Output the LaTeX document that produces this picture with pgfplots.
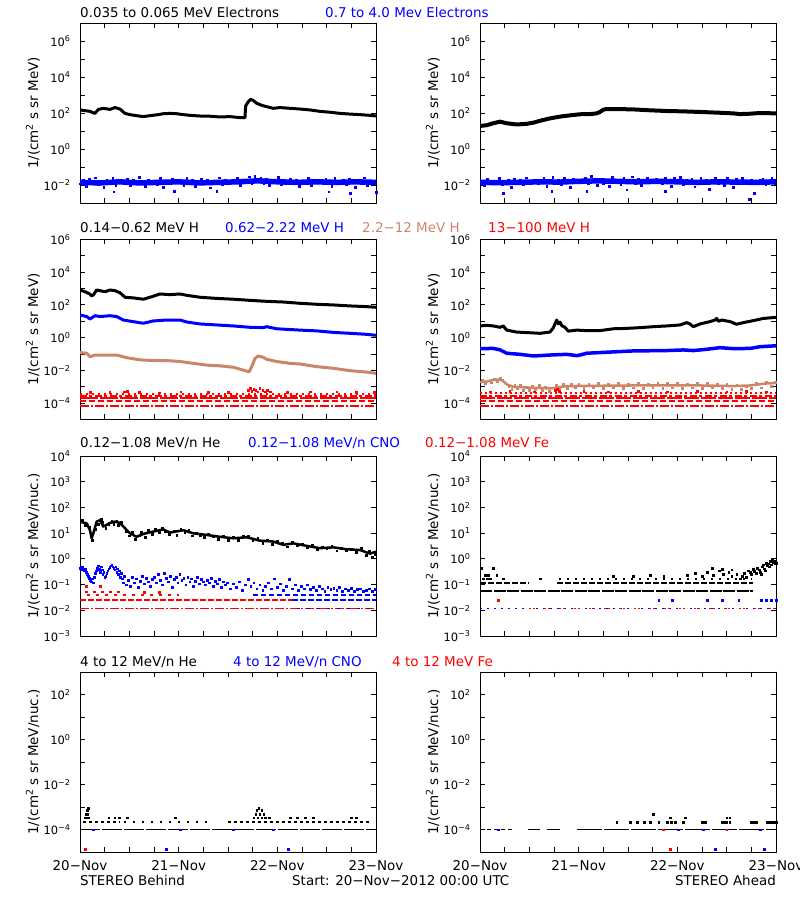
\documentclass[border=0pt]{standalone}
\usepackage{pgfplots}
\pgfplotsset{compat=1.18}
\usepackage{fontspec}
\setmainfont{DejaVu Sans}
\definecolor{tanc}{RGB}{205,133,103}
\newcommand\T{\fontsize{13.5}{14}\selectfont}
\newcommand\ee[1]{10\textsuperscript{#1}}
\pgfplotsset{
 every axis/.append style={scale only axis, width=296bp, height=180bp, xmin=0, xmax=3, ymode=log,
   axis line style={line width=0.9bp}, every tick/.style={line width=0.9bp, black},
   major tick length=5bp, minor tick length=5bp, tick align=inside,
   xtick={0,0.25,0.5,0.75,1,1.25,1.5,1.75,2,2.25,2.5,2.75,3},
   yticklabel style={font=\fontsize{11.5}{12}\selectfont, xshift=-6bp},
   xticklabel style={font=\T, yshift=-5bp},
   every axis y label/.style={at={(axis description cs:-0.159,0.5)}, rotate=90, anchor=center, font=\T},
   anchor=south west, clip=true},
 rowA/.style={ymin=1e-3, ymax=1e7, ytick={1e-2,1,1e2,1e4,1e6},
   yticklabels={\ee{−2},\ee{0},\ee{2},\ee{4},\ee{6}}, minor ytick={1e-3,1e-1,10,1e3,1e5,1e7},
   ylabel={1/(cm\textsuperscript{2} s sr MeV)}, xticklabels={}},
 rowB/.style={ymin=1e-5, ymax=1e6, ytick={1e-4,1e-2,1,1e2,1e4,1e6},
   yticklabels={\ee{−4},\ee{−2},\ee{0},\ee{2},\ee{4},\ee{6}}, minor ytick={1e-5,1e-3,1e-1,10,1e3,1e5},
   ylabel={1/(cm\textsuperscript{2} s sr MeV)}, xticklabels={}},
 rowC/.style={ymin=1e-3, ymax=1e4, ytick={1e-3,1e-2,1e-1,1,10,100,1e3,1e4},
   yticklabels={\ee{−3},\ee{−2},\ee{−1},\ee{0},\ee{1},\ee{2},\ee{3},\ee{4}}, yminorticks=false,
   ylabel={1/(cm\textsuperscript{2} s sr MeV/nuc.)}, xticklabels={}},
 rowD/.style={ymin=1e-5, ymax=1e3, ytick={1e-4,1e-2,1,1e2},
   yticklabels={\ee{−4},\ee{−2},\ee{0},\ee{2}}, minor ytick={1e-5,1e-3,1e-1,10,1e3},
   ylabel={1/(cm\textsuperscript{2} s sr MeV/nuc.)},
   xticklabels={20−Nov,,,,21−Nov,,,,22−Nov,,,,23−Nov}},
 mk/.style={only marks, mark=square*, mark size=0.9bp, mark options={line width=0.2bp}},
 ln/.style={no marks, line width=3bp, line join=round},
 lv/.style={no marks, line width=1.8bp},
}
\begin{document}
\begin{tikzpicture}
\useasboundingbox (0,0) rectangle (800bp,900bp);
% ---------- titles ----------
\node[anchor=base west, font=\T, inner sep=0] at (80bp,882bp) {0.035 to 0.065 MeV Electrons};
\node[anchor=base west, font=\T, inner sep=0, text=blue] at (325bp,882bp) {0.7 to 4.0 Mev Electrons};
\node[anchor=base west, font=\T, inner sep=0] at (80bp,667bp) {0.14−0.62 MeV H};
\node[anchor=base west, font=\T, inner sep=0, text=blue] at (225bp,667bp) {0.62−2.22 MeV H};
\node[anchor=base west, font=\T, inner sep=0, text=tanc] at (362bp,667bp) {2.2−12 MeV H};
\node[anchor=base west, font=\T, inner sep=0, text=red] at (488bp,667bp) {13−100 MeV H};
\node[anchor=base west, font=\T, inner sep=0] at (80bp,452bp) {0.12−1.08 MeV/n He};
\node[anchor=base west, font=\T, inner sep=0, text=blue] at (248bp,452bp) {0.12−1.08 MeV/n CNO};
\node[anchor=base west, font=\T, inner sep=0, text=red] at (425bp,452bp) {0.12−1.08 MeV Fe};
\node[anchor=base west, font=\T, inner sep=0] at (80bp,233bp) {4 to 12 MeV/n He};
\node[anchor=base west, font=\T, inner sep=0, text=blue] at (233bp,233bp) {4 to 12 MeV/n CNO};
\node[anchor=base west, font=\T, inner sep=0, text=red] at (392bp,233bp) {4 to 12 MeV Fe};
\node[anchor=base west, font=\T, inner sep=0] at (80bp,15bp) {STEREO Behind};
\node[anchor=base west, font=\T, inner sep=0] at (292bp,15bp) {Start: 20−Nov−2012 00:00 UTC};
\node[anchor=base east, font=\T, inner sep=0] at (776bp,15bp) {STEREO Ahead};

% ---------- Panel 1: Behind electrons ----------
\begin{axis}[rowA, at={(80bp,697bp)}]
\addplot[ln, black] coordinates {(0,148)(0.051,135)(0.101,123)(0.152,95)(0.186,158)(0.236,182)(0.304,158)(0.355,200)(0.405,166)(0.456,95)(0.507,81)(0.574,71)(0.642,63)(0.709,71)(0.777,79)(0.845,91)(0.912,95)(0.980,91)(1.047,81)(1.115,74)(1.216,68)(1.318,66)(1.419,60)(1.520,63)(1.622,55)(1.672,55)(1.679,245)(1.706,427)(1.730,575)(1.757,490)(1.791,347)(1.841,269)(1.892,224)(1.959,182)(2.027,200)(2.128,182)(2.230,166)(2.331,148)(2.432,123)(2.534,110)(2.635,95)(2.736,87)(2.838,81)(2.939,74)(3.0,68)};
\addplot[no marks, blue, line width=5.5bp] coordinates {(0,0.014)(0.2,0.013)(0.4,0.015)(0.6,0.013)(0.8,0.014)(1,0.015)(1.2,0.013)(1.4,0.014)(1.6,0.015)(1.8,0.017)(2,0.015)(2.2,0.014)(2.4,0.015)(2.6,0.014)(2.8,0.015)(3,0.014)};
\addplot[mk, blue] coordinates {(0,0.012)(0.03,0.018)(0.06,0.009)(0.09,0.021)(0.12,0.014)(0.15,0.026)(0.18,0.011)(0.21,0.016)(0.24,0.008)(0.27,0.019)(0.30,0.013)(0.33,0.023)(0.36,0.0095)(0.39,0.017)(0.34,0.0043)(0.45,0.015)(0.48,0.022)(0.51,0.010)(0.54,0.018)(0.57,0.012)(0.60,0.027)(0.63,0.014)(0.66,0.0085)(0.69,0.020)(0.72,0.013)(0.75,0.017)(0.78,0.011)(0.81,0.024)(0.84,0.0075)(0.87,0.016)(0.90,0.012)(0.93,0.021)(0.95,0.0048)(0.99,0.015)(1.02,0.019)(1.05,0.010)(1.08,0.025)(1.11,0.013)(1.14,0.018)(1.17,0.009)(1.20,0.016)(1.23,0.022)(1.26,0.012)(1.29,0.020)(1.32,0.0072)(1.35,0.017)(1.38,0.014)(1.41,0.026)(1.44,0.011)(1.47,0.019)(1.50,0.013)(1.385,0.0045)(1.56,0.016)(1.59,0.023)(1.62,0.010)(1.65,0.018)(1.68,0.015)(1.71,0.029)(1.74,0.012)(1.77,0.031)(1.80,0.017)(1.83,0.024)(1.86,0.013)(1.89,0.021)(1.92,0.0095)(1.95,0.019)(1.98,0.014)(2.01,0.027)(2.04,0.011)(2.07,0.018)(2.10,0.016)(2.13,0.022)(2.16,0.012)(2.19,0.020)(2.22,0.0088)(2.25,0.017)(2.28,0.013)(2.31,0.025)(2.34,0.010)(2.37,0.019)(2.40,0.015)(2.52,0.0043)(2.46,0.012)(2.49,0.021)(2.52,0.017)(2.55,0.009)(2.58,0.024)(2.61,0.014)(2.74,0.0035)(2.67,0.019)(2.70,0.011)(2.73,0.022)(2.76,0.016)(2.79,0.0078)(2.82,0.018)(2.85,0.013)(2.88,0.026)(2.91,0.010)(2.94,0.017)(3.0,0.0042)};
\end{axis}

% ---------- Panel 2: Ahead electrons ----------
\begin{axis}[rowA, at={(480bp,697bp)}]
\addplot[no marks, black, line width=4bp, line join=round] coordinates {(0,19)(0.068,21)(0.135,27)(0.203,33)(0.270,27)(0.372,23)(0.473,25)(0.541,29)(0.608,37)(0.709,50)(0.811,63)(0.912,74)(1.014,85)(1.115,87)(1.182,95)(1.216,114)(1.250,153)(1.284,166)(1.385,166)(1.554,158)(1.723,141)(1.892,129)(2.061,123)(2.230,114)(2.399,105)(2.568,95)(2.635,87)(2.736,91)(2.838,100)(3.0,95)};
\addplot[no marks, blue, line width=5.5bp] coordinates {(0,0.014)(0.2,0.0135)(0.4,0.014)(0.6,0.015)(0.8,0.0145)(1,0.016)(1.2,0.017)(1.4,0.016)(1.6,0.015)(1.8,0.016)(2,0.015)(2.2,0.014)(2.4,0.015)(2.6,0.0145)(2.8,0.014)(3,0.015)};
\addplot[mk, blue] coordinates {(0.015,0.014)(0.045,0.0095)(0.075,0.021)(0.105,0.012)(0.135,0.017)(0.236,0.0035)(0.195,0.024)(0.225,0.011)(0.255,0.016)(0.285,0.019)(0.315,0.008)(0.345,0.022)(0.375,0.013)(0.405,0.018)(0.435,0.0105)(0.465,0.026)(0.495,0.014)(0.726,0.0045)(0.555,0.020)(0.585,0.012)(0.615,0.017)(0.645,0.023)(0.675,0.009)(0.705,0.016)(0.735,0.028)(0.765,0.013)(0.795,0.019)(0.825,0.011)(0.855,0.025)(0.885,0.015)(0.915,0.0075)(0.945,0.021)(0.975,0.014)(1.005,0.018)(1.08,0.0048)(1.065,0.024)(1.095,0.012)(1.125,0.030)(1.155,0.016)(1.185,0.010)(1.215,0.022)(1.245,0.013)(1.275,0.019)(1.305,0.0085)(1.335,0.027)(1.365,0.015)(1.395,0.020)(1.425,0.011)(1.455,0.024)(1.485,0.0055)(1.515,0.017)(1.545,0.029)(1.575,0.013)(1.605,0.021)(1.635,0.010)(1.665,0.018)(1.695,0.026)(1.725,0.014)(1.875,0.0046)(1.785,0.022)(1.815,0.016)(1.845,0.012)(1.875,0.025)(1.905,0.019)(1.935,0.009)(1.965,0.023)(1.995,0.015)(2.025,0.028)(2.055,0.011)(2.085,0.018)(2.115,0.014)(2.145,0.021)(2.175,0.0082)(2.205,0.017)(2.235,0.024)(2.265,0.012)(2.295,0.020)(2.325,0.0058)(2.355,0.016)(2.385,0.026)(2.415,0.013)(2.445,0.019)(2.475,0.010)(2.505,0.023)(2.535,0.015)(2.565,0.0076)(2.595,0.021)(2.625,0.017)(2.655,0.025)(2.685,0.012)(2.73,0.0016)(2.745,0.020)(2.775,0.0035)(2.805,0.014)(2.835,0.018)(2.865,0.022)(2.895,0.011)(2.925,0.016)(2.955,0.024)(2.985,0.013)};
\end{axis}

% ---------- Panel 3: Behind H ----------
\begin{axis}[rowB, at={(80bp,480.5bp)}]
\addplot[ln, black] coordinates {(0,820)(0.051,645)(0.101,465)(0.118,355)(0.135,407)(0.169,820)(0.203,740)(0.253,645)(0.304,820)(0.355,740)(0.405,560)(0.456,295)(0.541,270)(0.642,224)(0.709,295)(0.811,468)(0.912,427)(1.014,468)(1.081,390)(1.216,295)(1.385,251)(1.554,224)(1.723,191)(1.892,166)(2.061,151)(2.230,126)(2.399,110)(2.568,100)(2.736,87)(2.905,79)(3.0,72)};
\addplot[ln, blue] coordinates {(0,24.5)(0.068,19.5)(0.101,13.8)(0.152,22)(0.203,19.5)(0.304,22)(0.372,19.5)(0.439,12)(0.541,9.5)(0.642,7.6)(0.743,10.5)(0.878,12)(1.014,12)(1.081,9.1)(1.216,6.9)(1.385,6)(1.554,5.2)(1.723,4.3)(1.858,4.1)(1.892,4.7)(1.993,3.5)(2.230,2.9)(2.399,2.6)(2.568,2.1)(2.736,1.85)(2.905,1.6)(3.0,1.4)};
\addplot[ln, tanc] coordinates {(0,0.123)(0.068,0.112)(0.101,0.069)(0.152,0.087)(0.203,0.087)(0.372,0.087)(0.473,0.060)(0.608,0.044)(0.743,0.040)(0.878,0.040)(1.014,0.035)(1.149,0.027)(1.284,0.021)(1.419,0.019)(1.554,0.0155)(1.689,0.0091)(1.716,0.0083)(1.740,0.017)(1.774,0.055)(1.807,0.076)(1.858,0.063)(1.892,0.048)(1.993,0.035)(2.128,0.027)(2.230,0.0245)(2.399,0.017)(2.568,0.0135)(2.736,0.0096)(2.905,0.0079)(3.0,0.0066)};
\addplot[lv, red, dash pattern=on 2bp off 4bp] coordinates {(0,3.8e-4)(3,3.8e-4)};
\addplot[lv, red, dash pattern=on 7bp off 2bp on 3bp off 3bp] coordinates {(0,2.7e-4)(3,2.7e-4)};
\addplot[lv, red, dash pattern=on 18bp off 2bp] coordinates {(0,2e-4)(3,2e-4)};
\addplot[lv, red, dash pattern=on 6bp off 3bp] coordinates {(0,1.4e-4)(3,1.4e-4)};
\addplot[lv, red, dash pattern=on 9bp off 2bp on 2bp off 2bp] coordinates {(0,6.7e-5)(3,6.7e-5)};
\addplot[mk, red] coordinates {(1.70,6e-4)(1.72,8e-4)(1.74,5.5e-4)(1.76,7e-4)(1.78,6e-4)(1.80,5e-4)(1.82,8e-4)(1.85,6e-4)(1.88,5e-4)(1.90,6.5e-4)(1.93,5e-4)(0.45,5e-4)(0.48,5.5e-4)(1.02,5e-4)(2.33,5e-4)(2.6,5e-4)(2.98,4.8e-4)(0.1,4.8e-4)(0.6,4.6e-4)(1.3,4.7e-4)(2.1,4.9e-4)(2.8,4.6e-4)(0.3,4.5e-4)(0.8,4.4e-4)(1.5,4.6e-4)};
\end{axis}

% ---------- Panel 4: Ahead H ----------
\begin{axis}[rowB, at={(480bp,480.5bp)}]
\addplot[ln, black] coordinates {(0,5.2)(0.068,5.7)(0.135,5.2)(0.203,4.3)(0.236,5.2)(0.270,2.9)(0.372,2.2)(0.473,2.05)(0.608,1.85)(0.709,2.2)(0.743,4)(0.760,6.9)(0.777,12)(0.794,7)(0.811,9)(0.828,5.5)(0.861,4.3)(0.895,2.5)(0.980,2.9)(1.081,2.7)(1.216,2.7)(1.351,3.5)(1.486,3.7)(1.622,4.1)(1.757,4.7)(1.892,5.2)(2.027,6.0)(2.095,8.3)(2.128,6.9)(2.162,4.7)(2.230,6.9)(2.331,9.6)(2.382,12)(2.399,15)(2.416,10)(2.449,12)(2.534,9.6)(2.601,6.6)(2.669,8.3)(2.770,11)(2.872,15)(3.0,17.5)};
\addplot[ln, blue, line width=3.5bp] coordinates {(0,0.214)(0.135,0.22)(0.203,0.18)(0.270,0.112)(0.405,0.096)(0.541,0.076)(0.709,0.087)(0.878,0.096)(0.980,0.08)(1.014,0.087)(1.081,0.112)(1.284,0.129)(1.554,0.155)(1.892,0.163)(2.061,0.178)(2.162,0.163)(2.297,0.195)(2.432,0.245)(2.568,0.214)(2.736,0.22)(2.838,0.28)(3.0,0.32)};
\addplot[ln, tanc, line width=2.5bp] coordinates {(0,2.0e-3)(0.068,2.1e-3)(0.135,2.6e-3)(0.203,2.8e-3)(0.236,2.2e-3)(0.270,1.4e-3)(0.338,1.0e-3)(0.541,8.7e-4)(0.709,7.9e-4)(0.878,1.1e-3)(1.216,1.15e-3)(1.554,1.2e-3)(1.892,1.2e-3)(2.230,1.2e-3)(2.568,1.1e-3)(2.736,1.2e-3)(2.905,1.6e-3)(3.0,1.7e-3)};
\addplot[mk, tanc] coordinates {(0.02,2.5e-3)(0.05,1.6e-3)(0.08,2.4e-3)(0.11,1.8e-3)(0.14,3.2e-3)(0.17,2.2e-3)(0.2,3.4e-3)(0.23,2.5e-3)(0.26,1.6e-3)(0.29,1.1e-3)(0.32,7e-4)(0.35,1.3e-3)(0.38,8e-4)(0.41,1.2e-3)(0.44,6.5e-4)(0.47,1e-3)(0.5,6e-4)(0.53,1.1e-3)(0.56,7e-4)(0.6,1.2e-3)(0.63,6.5e-4)(0.66,1e-3)(0.7,5.5e-4)(0.73,9e-4)(0.77,1.3e-3)(0.8,7e-4)(0.84,1.4e-3)(0.88,8e-4)(0.92,1.5e-3)(0.96,9e-4)(1.0,1.4e-3)(1.05,8.5e-4)(1.1,1.5e-3)(1.15,9e-4)(1.2,1.6e-3)(1.25,8e-4)(1.3,1.4e-3)(1.35,9e-4)(1.4,1.7e-3)(1.45,8.5e-4)(1.5,1.5e-3)(1.55,9e-4)(1.6,1.7e-3)(1.65,8e-4)(1.7,1.5e-3)(1.75,9.5e-4)(1.8,1.8e-3)(1.85,8.5e-4)(1.9,1.6e-3)(1.95,9e-4)(2.0,1.7e-3)(2.05,8.5e-4)(2.1,1.5e-3)(2.15,9e-4)(2.2,1.7e-3)(2.25,8e-4)(2.3,1.6e-3)(2.35,9e-4)(2.4,1.5e-3)(2.45,8.5e-4)(2.5,1.4e-3)(2.55,7.5e-4)(2.6,1.3e-3)(2.65,7e-4)(2.7,1.1e-3)(2.75,8e-4)(2.8,1.6e-3)(2.85,9e-4)(2.9,2e-3)(2.95,1.1e-3)(2.99,1.9e-3)};
\addplot[lv, red, dash pattern=on 2bp off 3bp] coordinates {(0,4e-4)(3,4e-4)};
\addplot[lv, red, dash pattern=on 7bp off 2bp on 3bp off 3bp] coordinates {(0,2.7e-4)(3,2.7e-4)};
\addplot[lv, red, dash pattern=on 15bp off 2bp] coordinates {(0,2e-4)(3,2e-4)};
\addplot[lv, red, dash pattern=on 6bp off 3bp] coordinates {(0,1.4e-4)(3,1.4e-4)};
\addplot[lv, red, dash pattern=on 9bp off 2bp on 2bp off 2bp] coordinates {(0,6.7e-5)(3,6.7e-5)};
\addplot[mk, red] coordinates {(0.76,6e-4)(0.78,7e-4)(0.8,5.5e-4)(0.1,5e-4)(0.3,5.2e-4)(0.55,5e-4)(1.05,5.3e-4)(1.3,5e-4)(1.6,5.2e-4)(1.9,5e-4)(2.2,5.3e-4)(2.5,5e-4)(2.7,5.2e-4)(2.9,5e-4)};
\end{axis}

% ---------- Panel 5: Behind He/CNO/Fe 0.12-1.08 ----------
\begin{axis}[rowC, at={(80bp,264bp)}]
\addplot[no marks, black, line width=2.5bp, line join=round] coordinates {(0,28)(0.068,24)(0.101,13)(0.118,6.3)(0.135,9.8)(0.169,28)(0.203,32)(0.236,18)(0.270,21)(0.304,25)(0.355,28)(0.405,25)(0.456,15.5)(0.507,9.8)(0.574,7.2)(0.642,9.3)(0.743,11.5)(0.845,14)(0.912,10.5)(1.047,13)(1.149,9.8)(1.284,8.5)(1.419,7.2)(1.554,6.3)(1.689,6.9)(1.824,5.1)(1.959,4.7)(2.061,3.5)(2.162,4)(2.297,3.2)(2.432,2.6)(2.568,2.8)(2.703,2.35)(2.838,2.2)(2.939,1.6)(3.0,1.9)};
\addplot[mk, black] coordinates {(0.02,32)(0.05,20)(0.09,17)(0.11,8)(0.125,5.5)(0.15,14)(0.18,22)(0.21,35)(0.23,26)(0.26,16)(0.29,23)(0.32,30)(0.34,22)(0.37,31)(0.39,20)(0.42,26)(0.47,12)(0.5,8)(0.53,11)(0.56,6)(0.6,8)(0.62,11)(0.66,7)(0.69,13)(0.73,9)(0.76,14)(0.8,11)(0.83,16)(0.86,12)(0.9,9)(0.95,12)(0.98,8.5)(1.02,15)(1.06,11)(1.1,13)(1.14,8)(1.18,10)(1.22,8)(1.26,7)(1.3,9)(1.35,7.5)(1.4,6)(1.45,8)(1.5,5.5)(1.55,7)(1.6,5.5)(1.65,7.5)(1.7,8)(1.75,5.5)(1.8,6.5)(1.85,4.2)(1.9,5.5)(1.95,3.8)(2,5)(2.05,4.2)(2.1,3)(2.15,4.5)(2.2,3.3)(2.25,3.8)(2.3,2.8)(2.35,3.5)(2.4,2.3)(2.45,3)(2.5,2.5)(2.55,3.2)(2.6,2.1)(2.65,2.7)(2.7,2.2)(2.75,2.5)(2.8,1.8)(2.85,2.6)(2.9,1.4)(2.93,2.0)(2.96,1.2)(2.99,1.5)};
\addplot[lv, red, dash pattern=on 9bp off 2bp on 2bp off 2bp] coordinates {(0,0.0118)(3,0.0118)};
\addplot[lv, red, dash pattern=on 6bp off 2bp] coordinates {(0,0.025)(2.15,0.025)};
\addplot[lv, red, dash pattern=on 3bp off 6bp] coordinates {(0.07,0.039)(1.0,0.039)};
\addplot[lv, red, dash pattern=on 3bp off 5bp] coordinates {(0.05,0.052)(0.45,0.052)};
\addplot[mk, red] coordinates {(0.06,0.089)(0.2,0.089)(0.65,0.052)(0.8,0.052)};
\addplot[lv, blue, dash pattern=on 5bp off 3bp] coordinates {(1.75,0.039)(3,0.039)};
\addplot[lv, blue, dash pattern=on 6bp off 2bp] coordinates {(2.15,0.025)(3,0.025)};
\addplot[lv, blue, dash pattern=on 3bp off 7bp] coordinates {(2.2,0.0118)(3,0.0118)};
\addplot[mk, blue] coordinates {(0,0.45)(0.01,0.38)(0.02,0.5)(0.03,0.42)(0.04,0.35)(0.05,0.4)(0.06,0.3)(0.07,0.25)(0.08,0.22)(0.09,0.18)(0.10,0.15)(0.11,0.13)(0.12,0.17)(0.13,0.12)(0.14,0.2)(0.15,0.28)(0.16,0.35)(0.17,0.45)(0.18,0.55)(0.19,0.4)(0.2,0.3)(0.21,0.5)(0.22,0.38)(0.23,0.25)(0.24,0.3)(0.25,0.2)(0.26,0.22)(0.27,0.28)(0.28,0.35)(0.29,0.42)(0.30,0.48)(0.31,0.55)(0.32,0.6)(0.33,0.5)(0.34,0.45)(0.35,0.38)(0.36,0.5)(0.37,0.3)(0.38,0.42)(0.39,0.25)(0.40,0.35)(0.41,0.2)(0.42,0.28)(0.43,0.17)(0.44,0.12)(0.45,0.22)(0.47,0.1)(0.49,0.15)(0.51,0.09)(0.53,0.2)(0.55,0.12)(0.57,0.17)(0.59,0.08)(0.61,0.14)(0.63,0.22)(0.65,0.11)(0.67,0.18)(0.69,0.13)(0.71,0.09)(0.73,0.16)(0.75,0.2)(0.77,0.12)(0.79,0.25)(0.81,0.15)(0.83,0.1)(0.85,0.28)(0.87,0.18)(0.89,0.13)(0.91,0.22)(0.93,0.08)(0.95,0.16)(0.97,0.2)(0.99,0.12)(1.01,0.25)(1.03,0.15)(1.05,0.18)(1.07,0.1)(1.09,0.2)(1.11,0.13)(1.13,0.17)(1.15,0.09)(1.17,0.14)(1.19,0.19)(1.21,0.11)(1.23,0.16)(1.25,0.13)(1.27,0.1)(1.29,0.15)(1.31,0.12)(1.33,0.18)(1.35,0.09)(1.37,0.14)(1.39,0.11)(1.41,0.16)(1.43,0.08)(1.45,0.13)(1.47,0.1)(1.49,0.12)(1.52,0.07)(1.55,0.11)(1.58,0.08)(1.61,0.13)(1.64,0.06)(1.67,0.1)(1.70,0.16)(1.73,0.09)(1.76,0.12)(1.79,0.07)(1.82,0.1)(1.85,0.06)(1.88,0.09)(1.91,0.12)(1.94,0.07)(1.97,0.17)(2.00,0.08)(2.03,0.11)(2.06,0.06)(2.09,0.09)(2.12,0.16)(2.15,0.07)(2.18,0.1)(2.21,0.06)(2.24,0.085)(2.27,0.07)(2.30,0.1)(2.33,0.065)(2.36,0.08)(2.39,0.06)(2.42,0.09)(2.45,0.07)(2.48,0.055)(2.51,0.08)(2.54,0.065)(2.57,0.075)(2.60,0.06)(2.63,0.08)(2.66,0.055)(2.69,0.07)(2.72,0.06)(2.75,0.075)(2.78,0.055)(2.81,0.065)(2.84,0.07)(2.87,0.055)(2.90,0.06)(2.93,0.07)(2.96,0.055)(2.99,0.065)};
\end{axis}

% ---------- Panel 6: Ahead He/CNO/Fe 0.12-1.08 ----------
\begin{axis}[rowC, at={(480bp,264bp)}]
\addplot[lv, black, dash pattern=on 12bp off 1.5bp] coordinates {(0,0.056)(2.77,0.056)};
\addplot[lv, black, dash pattern=on 6bp off 2bp] coordinates {(0,0.112)(0.5,0.112)};
\addplot[lv, black, dash pattern=on 6bp off 2bp] coordinates {(0.78,0.112)(2.77,0.112)};
\addplot[lv, black, dash pattern=on 2bp off 6bp] coordinates {(0.8,0.165)(2.75,0.165)};
\addplot[mk, black] coordinates {(0.017,0.43)(0.135,0.43)(0.051,0.24)(0.084,0.24)(0.169,0.24)(0.034,0.17)(0.068,0.17)(0.101,0.17)(0.236,0.17)(0.608,0.17)(1.35,0.22)(1.55,0.22)(1.72,0.24)(1.86,0.22)(2.10,0.24)(2.18,0.28)(2.25,0.22)(2.30,0.3)(2.36,0.24)(2.42,0.35)(2.46,0.26)(2.52,0.3)(2.55,0.22)(2.6,0.26)(2.35,0.43)(2.45,0.4)(2.55,0.38)(2.64,0.17)(2.66,0.22)(2.68,0.28)(2.70,0.2)(2.72,0.35)(2.74,0.3)(2.75,0.25)(2.77,0.4)(2.78,0.33)(2.80,0.28)(2.81,0.45)(2.83,0.38)(2.84,0.3)(2.86,0.5)(2.87,0.6)(2.88,0.42)(2.90,0.7)(2.91,0.55)(2.92,0.65)(2.94,0.8)(2.95,0.6)(2.96,0.9)(2.97,0.75)(2.98,0.85)(2.99,0.65)(3.0,0.7)(2.93,0.5)(2.89,0.35)(2.85,0.25)};
\addplot[lv, blue, dash pattern=on 2bp off 5bp] coordinates {(0,0.0118)(3,0.0118)};
\addplot[lv, red, dash pattern=on 2bp off 2bp on 2bp off 9bp] coordinates {(0.5,0.0118)(3,0.0118)};
\addplot[mk, blue] coordinates {(1.81,0.025)(1.95,0.025)(2.3,0.025)(2.45,0.025)(2.62,0.025)(2.85,0.025)(2.9,0.025)(2.95,0.025)(3.0,0.025)};
\addplot[mk, red] coordinates {(0.186,0.025)};
\end{axis}

% ---------- Panel 7: Behind 4-12 MeV/n ----------
\begin{axis}[rowD, at={(80bp,48bp)}]
\addplot[no marks, black, line width=1.2bp, dash pattern=on 20bp off 2bp] coordinates {(0,1e-4)(3,1e-4)};
\addplot[lv, black, dash pattern=on 3bp off 3bp] coordinates {(0.03,2.2e-4)(0.4,2.2e-4)};
\addplot[lv, black, dash pattern=on 2bp off 7bp] coordinates {(0.45,2.2e-4)(1.3,2.2e-4)};
\addplot[lv, black, dash pattern=on 3bp off 3bp] coordinates {(1.5,2.2e-4)(2.95,2.2e-4)};
\addplot[mk, black] coordinates {(0.05,3.4e-4)(0.08,3.4e-4)(0.06,4.7e-4)(0.07,4.7e-4)(0.075,7.4e-4)(0.08,9e-4)(0.29,3.4e-4)(0.35,3.4e-4)(0.4,3.4e-4)(0.48,3.4e-4)(0.96,3.4e-4)(1.76,3.4e-4)(1.8,3.4e-4)(1.84,3.4e-4)(1.88,3.4e-4)(1.92,3.4e-4)(1.78,4.7e-4)(1.82,4.7e-4)(1.86,4.7e-4)(1.79,7.4e-4)(1.84,7.4e-4)(1.81,9e-4)(2.13,3.4e-4)(2.2,3.4e-4)(2.28,3.4e-4)(2.36,3.4e-4)(2.75,3.4e-4)(2.8,3.4e-4)};
\addplot[mk, blue] coordinates {(0.135,1e-4)(1.014,1e-4)(1.554,1e-4)(1.96,1e-4)(0.87,1.35e-5)(2.11,1.35e-5)};
\addplot[mk, red] coordinates {(0.05,1.35e-5)};
\end{axis}

% ---------- Panel 8: Ahead 4-12 MeV/n ----------
\begin{axis}[rowD, at={(480bp,48bp)}]
\addplot[no marks, black, line width=1.2bp, dash pattern=on 4bp off 3bp] coordinates {(0,1e-4)(0.34,1e-4)};
\addplot[no marks, black, line width=1.2bp] coordinates {(0.49,1e-4)(0.61,1e-4)};
\addplot[no marks, black, line width=1.2bp] coordinates {(0.68,1e-4)(0.81,1e-4)};
\addplot[no marks, black, line width=1.2bp, dash pattern=on 25bp off 2bp] coordinates {(0.98,1e-4)(3,1e-4)};
\addplot[mk, black] coordinates {(1.385,2.2e-4)(1.52,2.2e-4)(1.59,2.2e-4)(1.66,2.2e-4)(1.72,2.2e-4)(1.81,2.2e-4)(1.9,2.2e-4)(1.94,2.2e-4)(1.98,2.2e-4)(2.06,2.2e-4)(2.25,2.2e-4)(2.28,2.2e-4)(2.45,2.2e-4)(2.48,2.2e-4)(2.5,2.2e-4)(2.53,2.2e-4)(2.75,2.2e-4)(2.78,2.2e-4)(2.8,2.2e-4)(2.91,2.2e-4)(2.94,2.2e-4)(2.97,2.2e-4)(3.0,2.2e-4)(1.757,4.7e-4)(1.93,3.4e-4)(2.08,3.4e-4)(2.5,3.4e-4)(2.53,3.4e-4)};
\addplot[mk, red] coordinates {(1.858,1e-4)(2.5,1e-4)(1.93,1.35e-5)};
\addplot[mk, blue] coordinates {(0.186,1e-4)(2.01,1e-4)(2.26,1e-4)(2.84,1e-4)(2.38,1.35e-5)(2.88,1.35e-5)};
\end{axis}
\end{tikzpicture}
\end{document}
